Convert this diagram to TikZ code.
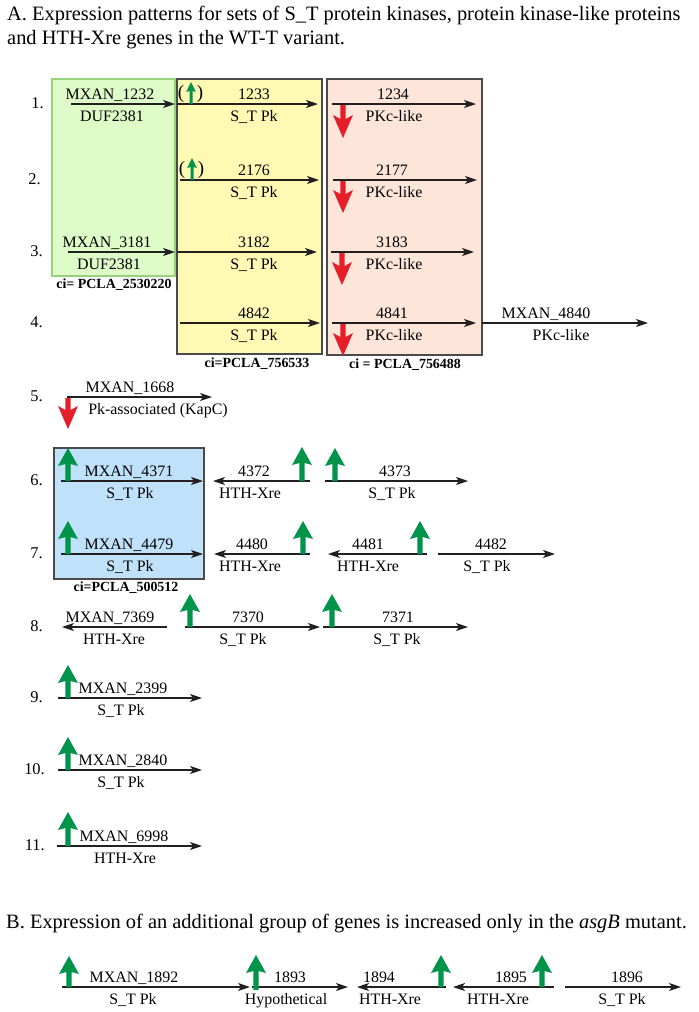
\documentclass[tikz,border=0pt]{standalone}
\usepackage{fontspec}
\setmainfont{Liberation Serif}
\usetikzlibrary{arrows.meta}
\definecolor{upgreen}{HTML}{00934A}
\definecolor{downred}{HTML}{E61E2A}
\definecolor{gfill}{HTML}{DDFCC8}
\definecolor{gdraw}{HTML}{94D27C}
\definecolor{yfill}{HTML}{FFF9B4}
\definecolor{pfill}{HTML}{FDE5DA}
\definecolor{bfill}{HTML}{BFE2FA}
\definecolor{boxdraw}{HTML}{4A4A4A}
\definecolor{genecol}{HTML}{231F20}
\tikzset{
  gene/.style={draw=genecol, line width=1.3bp, -{Stealth[length=12bp,width=8bp,inset=3bp]}},
  lab/.style={font=\fontsize{16}{18}\selectfont, inner sep=0pt, anchor=base},
  parlab/.style={font=\fontsize{19}{20}\selectfont, inner sep=0pt, anchor=base},
  cilab/.style={font=\fontsize{14}{16}\selectfont\bfseries, inner sep=0pt, anchor=base},
  rownum/.style={font=\fontsize{16.5}{18}\selectfont, inner sep=0pt, anchor=base east},
  titletext/.style={font=\fontsize{20.5}{24}\selectfont, inner sep=0pt, anchor=base west},
  clusterbox/.style={line width=1.2bp, draw=boxdraw},
}
% name, x1, x2, y, x above, text above, x below, text below
\newcommand\gene[8]{%
  \coordinate (#1s) at (#2,#4);
  \coordinate (#1e) at (#3,#4);
  \draw[gene] (#1s) -- (#1e);
  \node[lab] (#1a) at (#5,#4-5) {#6};
  \node[lab] (#1b) at (#7,#4+17) {#8};}
% x, base y, length
\newcommand\upmark[3]{%
  \fill[upgreen] (#1-2.6,#2) -- (#1-2.6,#2-#3+16) -- (#1-10,#2-#3+18) -- (#1,#2-#3)
    -- (#1+10,#2-#3+18) -- (#1+2.6,#2-#3+16) -- (#1+2.6,#2) -- cycle;}
\newcommand\smallupmark[2]{%
  \fill[upgreen] (#1-1.5,#2) -- (#1-1.5,#2-13) -- (#1-4.8,#2-12) -- (#1,#2-22)
    -- (#1+4.8,#2-12) -- (#1+1.5,#2-13) -- (#1+1.5,#2) -- cycle;}
% x, top y, tip y
\newcommand\downmark[3]{%
  \fill[downred] (#1-2.6,#2) -- (#1-2.6,#3-19) -- (#1-10,#3-23) -- (#1,#3)
    -- (#1+10,#3-23) -- (#1+2.6,#3-19) -- (#1+2.6,#2) -- cycle;}
\begin{document}
\begin{tikzpicture}[x=1bp,y=-1bp]
\useasboundingbox (0,0) rectangle (699,1012);
\fill[white] (0,0) rectangle (699,1012);

% titles
\node[titletext] (tA1) at (7,20) {A. Expression patterns for sets of S\_T protein kinases, protein kinase-like proteins};
\node[titletext] (tA2) at (7,44) {and HTH-Xre genes in the WT-T variant.};
\node[titletext] (tB) at (6,928) {B. Expression of an additional group of genes is increased only in the \textit{asgB} mutant.};

% cluster boxes
\filldraw[fill=gfill, draw=gdraw, line width=1.2bp] (52,79) rectangle (175,276);
\filldraw[clusterbox, fill=yfill] (177,79) rectangle (322,354);
\filldraw[clusterbox, fill=pfill] (327,79) rectangle (482,355);
\filldraw[clusterbox, fill=bfill] (54,448) rectangle (204,579);
\node[cilab] (ciG) at (114,288) {ci= PCLA\_2530220};
\node[cilab] (ciY) at (257,367) {ci=PCLA\_756533};
\node[cilab] (ciP) at (405,368) {ci = PCLA\_756488};
\node[cilab] (ciB) at (126,591) {ci=PCLA\_500512};

% row numbers
\node[rownum] (n1) at (44,108) {1.};
\node[rownum] (n2) at (41,184) {2.};
\node[rownum] (n3) at (43,256) {3.};
\node[rownum] (n4) at (43,327) {4.};
\node[rownum] (n5) at (43,401) {5.};
\node[rownum] (n6) at (43,485) {6.};
\node[rownum] (n7) at (43,558) {7.};
\node[rownum] (n8) at (43,631) {8.};
\node[rownum] (n9) at (43,702) {9.};
\node[rownum] (n10) at (45,774) {10.};
\node[rownum] (n11) at (45,850) {11.};

% row 1
\gene{g1232}{71}{175}{104}{110}{MXAN\_1232}{112}{DUF2381}
\gene{g1233}{177}{318}{104}{254}{1233}{254}{S\_T Pk}
\gene{g1234}{332}{476}{104}{393}{1234}{394}{PKc-like}
\smallupmark{191}{104}
\node[parlab] (p1l) at (181,98) {(};
\node[parlab] (p1r) at (200,98) {)};
\downmark{343}{105}{138}

% row 2
\gene{g2176}{180}{319}{180}{254}{2176}{254}{S\_T Pk}
\gene{g2177}{333}{477}{180}{392}{2177}{394}{PKc-like}
\smallupmark{192}{180}
\node[parlab] (p2l) at (182,174) {(};
\node[parlab] (p2r) at (201,174) {)};
\downmark{343}{181}{213}

% row 3
\gene{g3181}{68}{175}{252}{107}{MXAN\_3181}{109}{DUF2381}
\gene{g3182}{177}{317}{252}{254}{3182}{254}{S\_T Pk}
\gene{g3183}{331}{474}{252}{392}{3183}{394}{PKc-like}
\downmark{342}{253}{285}

% row 4
\gene{g4842}{180}{320}{323}{254}{4842}{254}{S\_T Pk}
\gene{g4841}{332}{476}{323}{392}{4841}{394}{PKc-like}
\gene{g4840}{482}{648}{323}{546}{MXAN\_4840}{561}{PKc-like}
\downmark{343}{324}{356}

% row 5
\gene{g1668}{67}{212}{397}{130}{MXAN\_1668}{158}{Pk-associated (KapC)}
\downmark{68}{398}{429}

% row 6
\gene{g4371}{61}{203}{481}{129}{MXAN\_4371}{130}{S\_T Pk}
\gene{g4372}{310}{213}{481}{254}{4372}{250}{HTH-Xre}
\gene{g4373}{325}{468}{481}{395}{4373}{392}{S\_T Pk}
\upmark{68}{481}{33}
\upmark{302}{481}{34}
\upmark{335}{481}{33}

% row 7
\gene{g4479}{61}{203}{554}{129}{MXAN\_4479}{130}{S\_T Pk}
\gene{g4480}{310}{214}{554}{252}{4480}{250}{HTH-Xre}
\gene{g4481}{427}{328}{554}{368}{4481}{368}{HTH-Xre}
\gene{g4482}{438}{555}{554}{491}{4482}{487}{S\_T Pk}
\upmark{68}{554}{33}
\upmark{303}{554}{33}
\upmark{420}{554}{33}

% row 8
\gene{g7369}{167}{62}{627}{110}{MXAN\_7369}{114}{HTH-Xre}
\gene{g7370}{185}{320}{627}{248}{7370}{243}{S\_T Pk}
\gene{g7371}{323}{468}{627}{398}{7371}{397}{S\_T Pk}
\upmark{190}{627}{33}
\upmark{332}{627}{33}

% rows 9-11
\gene{g2399}{58}{202}{698}{123}{MXAN\_2399}{121}{S\_T Pk}
\upmark{68}{698}{33}
\gene{g2840}{58}{202}{770}{123}{MXAN\_2840}{121}{S\_T Pk}
\upmark{68}{770}{33}
\gene{g6998}{57}{202}{846}{124}{MXAN\_6998}{125}{HTH-Xre}
\upmark{68}{846}{34}

% section B
\gene{g1892}{62}{250}{987}{134}{MXAN\_1892}{133}{S\_T Pk}
\gene{g1893}{252}{348}{987}{290}{1893}{286}{Hypothetical}
\gene{g1894}{446}{357}{987}{379}{1894}{390}{HTH-Xre}
\gene{g1895}{554}{453}{987}{511}{1895}{498}{HTH-Xre}
\gene{g1896}{565}{681}{987}{627}{1896}{622}{S\_T Pk}
\upmark{69}{987}{31}
\upmark{256}{990}{35}
\upmark{441}{987}{32}
\upmark{542}{987}{32}
\end{tikzpicture}
\end{document}
